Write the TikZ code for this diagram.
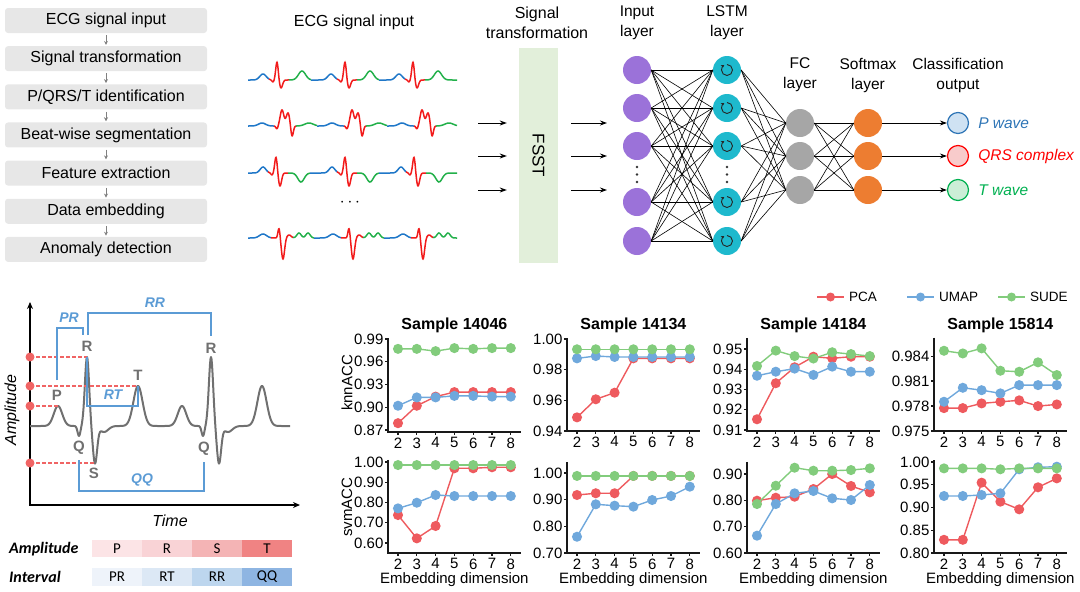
\documentclass[tikz,border=0pt]{standalone}
\usepackage{fontspec}
\setmainfont{Liberation Sans}
\newfontfamily\califont{Carlito}
\usetikzlibrary{arrows.meta,calc,positioning}

\definecolor{boxgray}{HTML}{E7E7E7}
\definecolor{ecgblue}{HTML}{1F77C8}
\definecolor{ecgred}{HTML}{F21B1B}
\definecolor{ecggreen}{HTML}{22B04A}
\definecolor{fsstgreen}{HTML}{E2EFDA}
\definecolor{inpurple}{HTML}{9B72D9}
\definecolor{lstmteal}{HTML}{1EB9CD}
\definecolor{fcgray}{HTML}{A6A6A6}
\definecolor{smorange}{HTML}{ED7D31}
\definecolor{pblue}{HTML}{2E75B6}
\definecolor{pfill}{HTML}{CFE2F3}
\definecolor{qrsred}{HTML}{FF0000}
\definecolor{qrsfill}{HTML}{F8CBCB}
\definecolor{tgreen}{HTML}{00B050}
\definecolor{tfill}{HTML}{CBEED7}
\definecolor{wavegray}{HTML}{707070}
\definecolor{dotred}{HTML}{F06464}
\definecolor{brblue}{HTML}{5B9BD5}
\definecolor{pcared}{HTML}{EE5A5E}
\definecolor{umapblue}{HTML}{6FA8DC}
\definecolor{sudegreen}{HTML}{82CC7C}
\definecolor{ampP}{HTML}{FCE4E6}
\definecolor{ampR}{HTML}{F9D3D6}
\definecolor{ampS}{HTML}{F4B4B5}
\definecolor{ampT}{HTML}{F08383}
\definecolor{intPR}{HTML}{EEF3FA}
\definecolor{intRT}{HTML}{DCE8F5}
\definecolor{intRR}{HTML}{BDD6EE}
\definecolor{intQQ}{HTML}{8EB5E2}

\tikzset{
  flowbox/.style={fill=boxgray, rounded corners=3pt, minimum width=202pt, minimum height=25pt, inner sep=0pt, font=\fontsize{16}{19}\selectfont},
  flowarrow/.style={draw=gray, line width=0.9pt, -{Stealth[length=4pt,width=4pt]}, shorten >=1pt, shorten <=2pt},
  head/.style={font=\fontsize{16}{20}\selectfont, align=center, inner sep=0pt},
  nnhead/.style={font=\fontsize{15.5}{20}\selectfont, align=center, inner sep=0pt},
  neuron/.style={circle, minimum size=28pt, inner sep=0pt},
  innode/.style={neuron, fill=inpurple},
  lstmnode/.style={neuron, fill=lstmteal},
  fcnode/.style={neuron, fill=fcgray},
  smnode/.style={neuron, fill=smorange},
  outnode/.style={circle, minimum size=21pt, inner sep=0pt, line width=1.2pt},
  outtxt/.style={font=\itshape\fontsize{15.5}{19}\selectfont, inner sep=0pt},
  nnedge/.style={line width=0.6pt},
  nnarrow/.style={line width=0.9pt, -{Stealth[length=7pt,width=5pt]}},
  recur/.style={line width=0.9pt, draw=black!85, -{Stealth[length=3pt,width=3.5pt]}},
  pseg/.style={draw=ecgblue, line width=1.5pt},
  qrsseg/.style={draw=ecgred, line width=1.5pt},
  tseg/.style={draw=ecggreen, line width=1.5pt},
  wave/.style={draw=wavegray, line width=2pt, line join=round},
  axisarrow/.style={line width=2pt, {Stealth[length=7pt,width=6pt]}-{Stealth[length=7pt,width=6pt]}},
  ampdash/.style={draw=dotred, line width=1.2pt, dash pattern=on 4pt off 2pt},
  bracket/.style={draw=brblue, line width=1.5pt},
  wlab/.style={font=\bfseries\fontsize{15}{18}\selectfont, text=wavegray, inner sep=0pt},
  brlab/.style={font=\bfseries\itshape\fontsize{14}{17}\selectfont, text=brblue, inner sep=0pt},
  cell/.style={minimum width=50pt, minimum height=17.5pt, inner sep=0pt, font=\califont\fontsize{15}{18}\selectfont},
  rowlab/.style={font=\califont\bfseries\itshape\fontsize{16}{19}\selectfont, inner sep=0pt, anchor=west},
  accax/.style n args={4}{shift={(#1-37.6,{#2+#3*#4})}, x=18.8pt, y=#4pt},
  axline/.style={line width=1.2pt, draw=black!90},
  ticklab/.style={font=\fontsize{15}{18}\selectfont, inner sep=0pt},
  axlab/.style={font=\fontsize{15}{18}\selectfont, inner sep=0pt},
  ptitle/.style={font=\bfseries\fontsize{16}{19}\selectfont, inner sep=0pt},
  legtxt/.style={font=\fontsize{13.5}{16}\selectfont, inner sep=0pt, anchor=west},
  pcaline/.style={draw=pcared, line width=1.4pt, mark=*, mark size=4.3pt, mark options={fill=pcared, draw=pcared}},
  umapline/.style={draw=umapblue, line width=1.4pt, mark=*, mark size=4.3pt, mark options={fill=umapblue, draw=umapblue}},
  sudeline/.style={draw=sudegreen, line width=1.4pt, mark=*, mark size=4.3pt, mark options={fill=sudegreen, draw=sudegreen}}
}

% axis frame of one accuracy panel: bottom, top, y ticks
\newcommand{\accframe}[3]{%
  \draw[axline] (1.468,#2) -- (1.468,#1) -- (8.53,#1);
  \foreach \tv in {#3}
    \draw[axline] (1.468,\tv) -- ++(-3pt,0pt) node[ticklab, left=1pt] {\tv};
  \foreach \k in {2,...,8}
    \draw[axline] (\k,#1) -- ++(0pt,-3pt) node[ticklab, below=2pt] {\k};
}

\begin{document}
\begin{tikzpicture}[x=1pt, y=-1pt,
  declare function={
    gss(\t,\c,\w)=exp(-1*(((\t)-(\c))/(\w))^2);
    ecgA(\t)=6*gss(\t,-14,4.5)-2*gss(\t,-4,1.5)+18*gss(\t,0,1.8)-8*gss(\t,4,2.2)+9*gss(\t,25,5);
    ecgB(\t)=3*gss(\t,-20,5)-3*gss(\t,-5,1.5)+16*gss(\t,0,2.6)+13*gss(\t,6,2.6)-11*gss(\t,10,1.8)+3*gss(\t,27,6);
    ecgC(\t)=6*gss(\t,-13,4)-2*gss(\t,-4,1.5)+16*gss(\t,0,1.8)-13*gss(\t,4,2.2)-9*gss(\t,25,4.5);
    ecgD(\t)=4*gss(\t,-16,5)+10*gss(\t,0,1.5)-21*gss(\t,4,2.2)+3*gss(\t,10,3)+5*gss(\t,20,3)+5*gss(\t,29,3);
    ecgW(\t)=20*gss(\t,-29,6)-10*gss(\t,-8,2)+69*gss(\t,0,3)-37*gss(\t,8,3)-6*gss(\t,17,6)+40*gss(\t,51,6.5);
  }]
\useasboundingbox (0,0) rectangle (1080,592);

% pipeline
\foreach \st [count=\i] in {ECG signal input, Signal transformation, P/QRS/T identification, Beat-wise segmentation, Feature extraction, Data embedding, Anomaly detection}
  \node[flowbox] (f\i) at (106,{20.5+38.15*(\i-1)}) {\st};
\foreach \i [count=\j from 2] in {1,...,6}
  \draw[flowarrow] (f\i.south) -- (f\j.north);

% input signals
\node[head] (sigtitle) at (354,22) {ECG signal input};
\foreach \rp/\da/\db in {277/-29/34,345/-34/34,413/-34/44}{
  \draw[pseg] plot[domain=\da:-8,samples=30] ({\rp+\x},{80-ecgA(\x)});
  \draw[qrsseg] plot[domain=-8:12,samples=61] ({\rp+\x},{80-ecgA(\x)});
  \draw[tseg] plot[domain=12:\db,samples=30] ({\rp+\x},{80-ecgA(\x)});
}
\foreach \rp/\da/\db in {282/-34/35,352/-35/35,422/-35/35}{
  \draw[pseg] plot[domain=\da:-8,samples=30] ({\rp+\x},{126-ecgB(\x)});
  \draw[qrsseg] plot[domain=-8:14,samples=67] ({\rp+\x},{126-ecgB(\x)});
  \draw[tseg] plot[domain=14:\db,samples=30] ({\rp+\x},{126-ecgB(\x)});
}
\foreach \rp/\da/\db in {276/-28/34,345/-35/34,414/-35/43}{
  \draw[pseg] plot[domain=\da:-8,samples=30] ({\rp+\x},{173-ecgC(\x)});
  \draw[qrsseg] plot[domain=-8:12,samples=61] ({\rp+\x},{173-ecgC(\x)});
  \draw[tseg] plot[domain=12:\db,samples=30] ({\rp+\x},{173-ecgC(\x)});
}
\foreach \rp/\da/\db in {279/-31/35,349/-35/35,419/-35/38}{
  \draw[pseg] plot[domain=\da:-8,samples=30] ({\rp+\x},{238-ecgD(\x)});
  \draw[qrsseg] plot[domain=-8:14,samples=67] ({\rp+\x},{238-ecgD(\x)});
  \draw[tseg] plot[domain=14:\db,samples=30] ({\rp+\x},{238-ecgD(\x)});
}
\node[head] (sigdots) at (350,203) {$\cdots$};

% FSST block
\node[head] (fssttitle) at (537,23) {Signal\\transformation};
\node[fill=fsstgreen, minimum width=39pt, minimum height=215pt, inner sep=0pt] (fsst) at (538.5,155.5) {};
\node[head, rotate=-90, font=\fontsize{17}{20}\selectfont] (fssttxt) at (fsst) {FSST};
\foreach \y [count=\i] in {123,156,190}{
  \coordinate (fi\i) at (478,\y);
  \coordinate (fo\i) at (607,\y);
  \draw[nnarrow, shorten >=12pt] (fi\i) -- (fi\i -| fsst.west);
  \draw[nnarrow, shorten <=13pt] (fo\i -| fsst.east) -- (fo\i);
}

% network
\node[nnhead] (inhead) at (637,23) {Input\\layer};
\node[nnhead] (lshead) at (727,23) {LSTM\\layer};
\node[nnhead] (fchead) at (800,75) {FC\\layer};
\node[nnhead] (smhead) at (868,75) {Softmax\\layer};
\node[nnhead] (outhead) at (958,75) {Classification\\output};
\foreach \y [count=\i] in {70,108,146,202,241}{
  \node[innode] (in\i) at (637,\y) {};
  \node[lstmnode] (ls\i) at (727,\y) {};
}
\foreach \y [count=\i] in {123,156,190}{
  \node[fcnode] (fc\i) at (800,\y) {};
  \node[smnode] (sm\i) at (868,\y) {};
}
\foreach \i in {1,...,5}
  \foreach \j in {1,...,5}
    \draw[nnedge] (in\i.east) -- (ls\j.west);
\foreach \i in {1,...,5}
  \foreach \j in {1,2,3}
    \draw[nnedge] (ls\i.east) -- (fc\j.west);
\foreach \i in {1,2,3}
  \foreach \j in {1,2,3}
    \draw[nnedge] (fc\i.east) -- (sm\j.west);
\foreach \i in {1,...,5}
  \draw[recur] ($(ls\i)+(-90:5.5)$) arc[start angle=-90, end angle=240, radius=5.5];
% vertical dots between neurons
\foreach \cx in {637,727}
  \foreach \cy in {167,174.5,182}
    \fill[black!80] (\cx,\cy) circle (1.3pt);

\node[outnode, draw=pblue, fill=pfill] (o1) at (958,123) {};
\node[outnode, draw=qrsred, fill=qrsfill] (o2) at (958,156) {};
\node[outnode, draw=tgreen, fill=tfill] (o3) at (958,190) {};
\foreach \i in {1,2,3}
  \draw[nnarrow] (sm\i) -- (o\i);
\node[outtxt, text=pblue, right=9pt of o1] (o1txt) {P wave};
\node[outtxt, text=qrsred, right=9pt of o2] (o2txt) {QRS complex};
\node[outtxt, text=tgreen, right=9pt of o3] (o3txt) {T wave};

% ECG features
\draw[axisarrow] (30,302) -- (30,505) -- (300,505);
\node[head, rotate=90, font=\itshape\fontsize{16}{19}\selectfont] (amplabel) at (12,410) {Amplitude};
\node[head, font=\itshape\fontsize{16}{19}\selectfont] (timelabel) at (170,521) {Time};
\draw[wave] plot[domain=30:160,samples=261] (\x,{426-ecgW(\x-87)})
  -- plot[domain=160:290,samples=261] (\x,{426-ecgW(\x-211)});

\coordinate (rpk) at (87,357);
\coordinate (tpk) at (138,386);
\coordinate (ppk) at (58,406);
\coordinate (spk) at (95,463);
\foreach \pk in {rpk,tpk,ppk,spk}{
  \coordinate (ax\pk) at (30,0 |- \pk);
  \draw[ampdash] (ax\pk) -- (\pk);
  \fill[dotred] (ax\pk) circle (4.5pt);
}
\draw[bracket] (57,380) |- (83,328) -- (83,335);
\draw[bracket] (88,335) |- (211,313) -- (211,336);
\draw[bracket] (87,357) |- (138,406) -- (138,386);
\draw[bracket] (79,460) |- (204,491) -- (204,462);
\node[brlab] (prlab) at (69,318) {PR};
\node[brlab] (rrlab) at (155,303) {RR};
\node[brlab] (rtlab) at (113,395) {RT};
\node[brlab] (qqlab) at (142,480) {QQ};
\node[wlab] (rlab1) at (87,346) {R};
\node[wlab] (rlab2) at (211,348) {R};
\node[wlab] (tlab) at (138,375) {T};
\node[wlab] (plab) at (57,395) {P};
\node[wlab] (qlab1) at (79,448) {Q};
\node[wlab] (qlab2) at (204,449) {Q};
\node[wlab] (slab) at (94,473) {S};

% feature table
\node[rowlab] (amprow) at (9,549) {Amplitude};
\node[rowlab] (introw) at (9,577) {Interval};
\foreach \l/\c [count=\i] in {P/ampP,R/ampR,S/ampS,T/ampT}
  \node[cell, fill=\c] (amp\i) at ({67+50*\i},548.5) {\l};
\foreach \l/\c [count=\i] in {PR/intPR,RT/intRT,RR/intRR,QQ/intQQ}
  \node[cell, fill=\c] (int\i) at ({67+50*\i},577) {\l};

% legend
\foreach \c/\nm/\lx in {pcared/PCA/817,umapblue/UMAP/907,sudegreen/SUDE/998}{
  \coordinate (lg\nm) at (\lx,297);
  \draw[draw=\c, line width=1.4pt] (lg\nm) -- ++(27,0);
  \fill[\c] ($(lg\nm)+(13.5,0)$) circle (4.5pt);
  \node[legtxt] (lt\nm) at ($(lg\nm)+(32,0)$) {\nm};
}

% accuracy panels
\node[axlab, rotate=90] (knnlab) at (347,383) {knnACC};
\node[axlab, rotate=90] (svmlab) at (347,507) {svmACC};
\foreach \px/\nm in {398/14046,577/14134,757/14184,944/15814}{
  \node[ptitle] (title\nm) at ({\px+56.4},325) {Sample \nm};
  \node[axlab] (xlab\nm) at ({\px+56.4},580) {Embedding dimension};
}

\begin{scope}[accax={398}{430}{0.87}{758.3}]
  \accframe{0.8674}{0.991}{0.87,0.90,0.93,0.96,0.99}
  \draw[pcaline] plot coordinates {(2,0.879)(3,0.902)(4,0.914)(5,0.920)(6,0.920)(7,0.920)(8,0.920)};
  \draw[umapline] plot coordinates {(2,0.902)(3,0.913)(4,0.913)(5,0.915)(6,0.915)(7,0.914)(8,0.914)};
  \draw[sudeline] plot coordinates {(2,0.977)(3,0.977)(4,0.974)(5,0.978)(6,0.977)(7,0.978)(8,0.978)};
\end{scope}
\begin{scope}[accax={398}{543}{0.60}{202.5}]
  \accframe{0.551}{1.01}{0.60,0.70,0.80,0.90,1.00}
  \draw[pcaline] plot coordinates {(2,0.738)(3,0.623)(4,0.684)(5,0.969)(6,0.969)(7,0.974)(8,0.974)};
  \draw[umapline] plot coordinates {(2,0.771)(3,0.799)(4,0.837)(5,0.832)(6,0.832)(7,0.832)(8,0.832)};
  \draw[sudeline] plot coordinates {(2,0.985)(3,0.985)(4,0.985)(5,0.985)(6,0.985)(7,0.985)(8,0.985)};
\end{scope}

\begin{scope}[accax={577}{431}{0.94}{1533}]
  \accframe{0.94}{1.0006}{0.94,0.96,0.98,1.00}
  \draw[pcaline] plot coordinates {(2,0.9489)(3,0.9607)(4,0.965)(5,0.9874)(6,0.9874)(7,0.9874)(8,0.9874)};
  \draw[umapline] plot coordinates {(2,0.9874)(3,0.9889)(4,0.9883)(5,0.9883)(6,0.9883)(7,0.9883)(8,0.9883)};
  \draw[sudeline] plot coordinates {(2,0.9933)(3,0.9933)(4,0.9933)(5,0.9933)(6,0.9933)(7,0.9933)(8,0.9933)};
\end{scope}
\begin{scope}[accax={577}{553}{0.70}{266.7}]
  \accframe{0.70}{1.041}{0.70,0.80,0.90,1.00}
  \draw[pcaline] plot coordinates {(2,0.9175)(3,0.924)(4,0.924)(5,0.989)(6,0.989)(7,0.989)(8,0.989)};
  \draw[umapline] plot coordinates {(2,0.761)(3,0.8826)(4,0.8775)(5,0.8737)(6,0.8987)(7,0.9137)(8,0.9487)};
  \draw[sudeline] plot coordinates {(2,0.989)(3,0.989)(4,0.989)(5,0.989)(6,0.989)(7,0.989)(8,0.989)};
\end{scope}

\begin{scope}[accax={757}{430}{0.91}{2025}]
  \accframe{0.9095}{0.9555}{0.91,0.92,0.93,0.94,0.95}
  \draw[pcaline] plot coordinates {(2,0.9153)(3,0.9331)(4,0.941)(5,0.9462)(6,0.9454)(7,0.9462)(8,0.9462)};
  \draw[umapline] plot coordinates {(2,0.9368)(3,0.9388)(4,0.9403)(5,0.9372)(6,0.9413)(7,0.9388)(8,0.9388)};
  \draw[sudeline] plot coordinates {(2,0.9416)(3,0.9492)(4,0.9465)(5,0.9453)(6,0.9484)(7,0.9475)(8,0.9465)};
\end{scope}
\begin{scope}[accax={757}{553}{0.60}{263.3}]
  \accframe{0.60}{0.946}{0.60,0.70,0.80,0.90}
  \draw[pcaline] plot coordinates {(2,0.7987)(3,0.81)(4,0.8138)(5,0.843)(6,0.90)(7,0.8545)(8,0.8304)};
  \draw[umapline] plot coordinates {(2,0.6658)(3,0.786)(4,0.8267)(5,0.8355)(6,0.8076)(7,0.8013)(8,0.8583)};
  \draw[sudeline] plot coordinates {(2,0.786)(3,0.8556)(4,0.924)(5,0.9126)(6,0.9126)(7,0.915)(8,0.9216)};
\end{scope}

\begin{scope}[accax={944}{431}{0.975}{8333}]
  \accframe{0.975}{0.9862}{0.975,0.978,0.981,0.984}
  \draw[pcaline] plot coordinates {(2,0.97776)(3,0.97776)(4,0.97832)(5,0.97852)(6,0.97868)(7,0.978)(8,0.9782)};
  \draw[umapline] plot coordinates {(2,0.97852)(3,0.9802)(4,0.9799)(5,0.97952)(6,0.98052)(7,0.98052)(8,0.98052)};
  \draw[sudeline] plot coordinates {(2,0.98464)(3,0.98432)(4,0.98492)(5,0.98224)(6,0.98212)(7,0.98324)(8,0.98172)};
\end{scope}
\begin{scope}[accax={944}{553}{0.80}{455}]
  \accframe{0.80}{1.004}{0.80,0.85,0.90,0.95,1.00}
  \draw[pcaline] plot coordinates {(2,0.829)(3,0.829)(4,0.9546)(5,0.9128)(6,0.896)(7,0.9444)(8,0.9641)};
  \draw[umapline] plot coordinates {(2,0.9253)(3,0.9253)(4,0.9275)(5,0.9312)(6,0.984)(7,0.9884)(8,0.9897)};
  \draw[sudeline] plot coordinates {(2,0.986)(3,0.986)(4,0.986)(5,0.984)(6,0.986)(7,0.986)(8,0.986)};
\end{scope}
\end{tikzpicture}
\end{document}
